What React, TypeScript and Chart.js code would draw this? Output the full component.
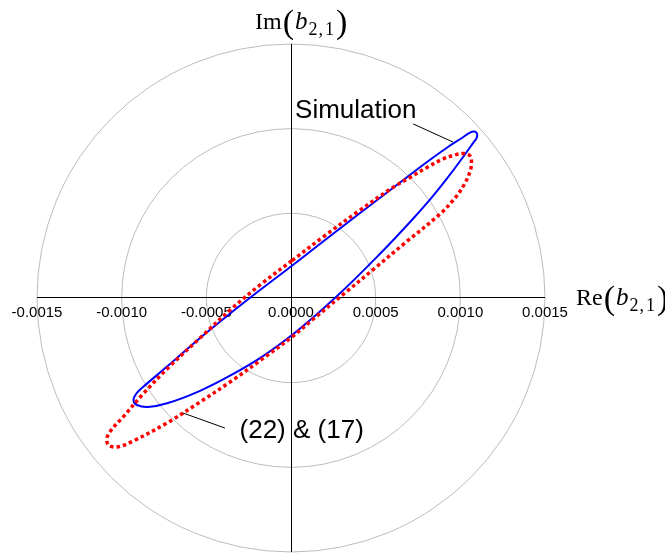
import { useEffect, useRef } from "react";
import { Chart, registerables } from "chart.js";

Chart.register(...registerables);

// Simulated b(2,1) trajectory in the complex plane (real, imaginary)
const simRe = [
  0.000004, 0.000201, 0.000408, 0.000602, 0.000803, 0.000927, 0.00101, 0.001057,
  0.001084, 0.001099, 0.001096, 0.001075, 0.001022, 0.000933, 0.000833, 0.000726,
  0.000614, 0.000496, 0.000384, 0.000272, 0.000142, 0.000006, -0.000165, -0.00036,
  -0.000537, -0.000732, -0.000845, -0.00091, -0.00093, -0.000915, -0.000874, -0.000732,
  -0.000537, -0.00036, -0.000183, 0.000004,
];
const simIm = [
  0.000189, 0.000343, 0.000502, 0.00065, 0.000803, 0.000892, 0.000945, 0.000977,
  0.000983, 0.000969, 0.000945, 0.000915, 0.000841, 0.000721, 0.000596, 0.000474,
  0.000353, 0.000231, 0.000119, 0.000012, -0.000105, -0.000219, -0.000343, -0.000459,
  -0.000548, -0.000622, -0.000644, -0.000632, -0.000605, -0.000567, -0.000526, -0.000405,
  -0.000236, -0.000092, 0.000047, 0.000189,
];

// Analytical result from eqs. (22) & (17)
const eqRe = [
  0.000006, 0.000201, 0.000396, 0.000602, 0.000703, 0.000803, 0.000898, 0.000969,
  0.001022, 0.001057, 0.001066, 0.00106, 0.001028, 0.000969, 0.00088, 0.000673,
  0.000496, 0.000319, 0.000136, 0.000006, -0.000165, -0.00036, -0.000537, -0.000732,
  -0.000933, -0.001028, -0.001078, -0.001087, -0.001057, -0.000992, -0.000874, -0.000732,
  -0.000537, -0.00036, -0.000183, 0.000006,
];
const eqIm = [
  0.000221, 0.000369, 0.000511, 0.000653, 0.000712, 0.000771, 0.000821, 0.000845,
  0.000853, 0.000839, 0.000803, 0.000756, 0.000679, 0.000591, 0.000496, 0.000325,
  0.000177, 0.00003, -0.000121, -0.00023, -0.000357, -0.000496, -0.000614, -0.000738,
  -0.000845, -0.00088, -0.000868, -0.000827, -0.000774, -0.000703, -0.000567, -0.000419,
  -0.000236, -0.000071, 0.000077, 0.000221,
];

const tickValues = [-0.0015, -0.001, -0.0005, 0, 0.0005, 0.001, 0.0015];
const ringRadii = [0.0005, 0.001, 0.0015];
const axisLimit = 0.0015;

const simLabel = "Simulation";
const eqLabel = "(22) & (17)";

const toPoints = (re: number[], im: number[]) => re.map((v, i) => ({ x: v, y: im[i] }));

// Draws "Xx(b₂,₁)" in a math-like serif style starting at (x, baseline)
function drawComplexLabel(ctx: CanvasRenderingContext2D, prefix: string, x: number, baseline: number) {
  ctx.fillStyle = "#000";
  ctx.textAlign = "left";
  ctx.textBaseline = "alphabetic";
  let cx = x;
  ctx.font = "24px 'Liberation Serif', 'DejaVu Serif', serif";
  ctx.fillText(prefix, cx, baseline);
  cx += ctx.measureText(prefix).width + 1;
  ctx.font = "34px 'Liberation Serif', 'DejaVu Serif', serif";
  ctx.fillText("(", cx, baseline + 4);
  cx += ctx.measureText("(").width + 1;
  ctx.font = "italic 25px 'Liberation Serif', 'DejaVu Serif', serif";
  ctx.fillText("b", cx, baseline);
  cx += ctx.measureText("b").width + 1;
  ctx.font = "18px 'Liberation Serif', 'DejaVu Serif', serif";
  ctx.fillText("2", cx, baseline + 6);
  cx += ctx.measureText("2").width + 1;
  ctx.fillText(",", cx, baseline + 6);
  cx += ctx.measureText(",").width + 2;
  ctx.fillText("1", cx, baseline + 6);
  cx += ctx.measureText("1").width + 2;
  ctx.font = "34px 'Liberation Serif', 'DejaVu Serif', serif";
  ctx.fillText(")", cx, baseline + 4);
}

const polarFrame = {
  id: "polarFrame",
  beforeDatasetsDraw(chart: any) {
    const { ctx, scales } = chart;
    const xs = scales.x;
    const ys = scales.y;
    const cx = xs.getPixelForValue(0);
    const cy = ys.getPixelForValue(0);
    ctx.save();
    ctx.strokeStyle = "#bcbcbc";
    ctx.lineWidth = 1;
    ringRadii.forEach((r) => {
      const rp = xs.getPixelForValue(r) - cx;
      ctx.beginPath();
      ctx.arc(cx, cy, rp, 0, Math.PI * 2);
      ctx.stroke();
    });
    // crisp 1px axes through the origin
    const ax = Math.floor(cx) + 0.5;
    const ay = Math.floor(cy) - 0.5;
    ctx.strokeStyle = "#000";
    ctx.beginPath();
    ctx.moveTo(xs.getPixelForValue(-axisLimit), ay);
    ctx.lineTo(xs.getPixelForValue(axisLimit), ay);
    ctx.moveTo(ax, ys.getPixelForValue(axisLimit));
    ctx.lineTo(ax, ys.getPixelForValue(-axisLimit));
    ctx.stroke();

    ctx.fillStyle = "#000";
    ctx.font = "15px 'Liberation Sans', Arial, sans-serif";
    ctx.textAlign = "center";
    ctx.textBaseline = "alphabetic";
    tickValues.forEach((v) => {
      ctx.fillText(v.toFixed(4), xs.getPixelForValue(v), cy + 19);
    });
    ctx.restore();
  },
  afterDatasetsDraw(chart: any) {
    const { ctx, scales } = chart;
    const xs = scales.x;
    const ys = scales.y;
    const px = (v: number) => xs.getPixelForValue(v);
    const py = (v: number) => ys.getPixelForValue(v);
    ctx.save();
    // leader lines
    ctx.strokeStyle = "#000";
    ctx.lineWidth = 1;
    ctx.beginPath();
    ctx.moveTo(px(0.000721), py(0.001028));
    ctx.lineTo(px(0.000957), py(0.000921));
    ctx.moveTo(px(-0.000638), py(-0.000679));
    ctx.lineTo(px(-0.00039), py(-0.000768));
    ctx.stroke();

    ctx.fillStyle = "#000";
    ctx.font = "26px 'Liberation Sans', Arial, sans-serif";
    ctx.textAlign = "left";
    ctx.textBaseline = "alphabetic";
    ctx.fillText(simLabel, px(0.000024), py(0.001063));
    ctx.fillText(eqLabel, px(-0.000304), py(-0.000827));

    drawComplexLabel(ctx, "Im", 255, 29);
    drawComplexLabel(ctx, "Re", 576, 305);
    ctx.restore();
  },
};

export default function App() {
  const canvasRef = useRef<HTMLCanvasElement | null>(null);

  useEffect(() => {
    const canvas = canvasRef.current;
    if (!canvas) return;
    const chart = new Chart(canvas, {
      type: "scatter",
      data: {
        datasets: [
          {
            label: eqLabel,
            data: toPoints(eqRe, eqIm),
            showLine: true,
            borderColor: "#ff0000",
            borderWidth: 3.5,
            borderDash: [3.5, 3],
            borderCapStyle: "butt",
            pointRadius: 0,
            tension: 0.35,
            fill: false,
          },
          {
            label: simLabel,
            data: toPoints(simRe, simIm),
            showLine: true,
            borderColor: "#0000ff",
            borderWidth: 2,
            pointRadius: 0,
            tension: 0.35,
            fill: false,
          },
        ],
      },
      options: {
        responsive: false,
        animation: false,
        layout: { padding: { left: 37, right: 120, top: 44, bottom: 3 } },
        plugins: { legend: { display: false }, tooltip: { enabled: false } },
        scales: {
          x: { type: "linear", min: -axisLimit, max: axisLimit, display: false },
          y: { type: "linear", min: -axisLimit, max: axisLimit, display: false },
        },
      },
      plugins: [polarFrame],
    });
    return () => chart.destroy();
  }, []);

  return (
    <div style={{ position: "fixed", left: 0, top: 0, width: 665, height: 555, background: "#fff" }}>
      <canvas ref={canvasRef} width={665} height={555} />
    </div>
  );
}
